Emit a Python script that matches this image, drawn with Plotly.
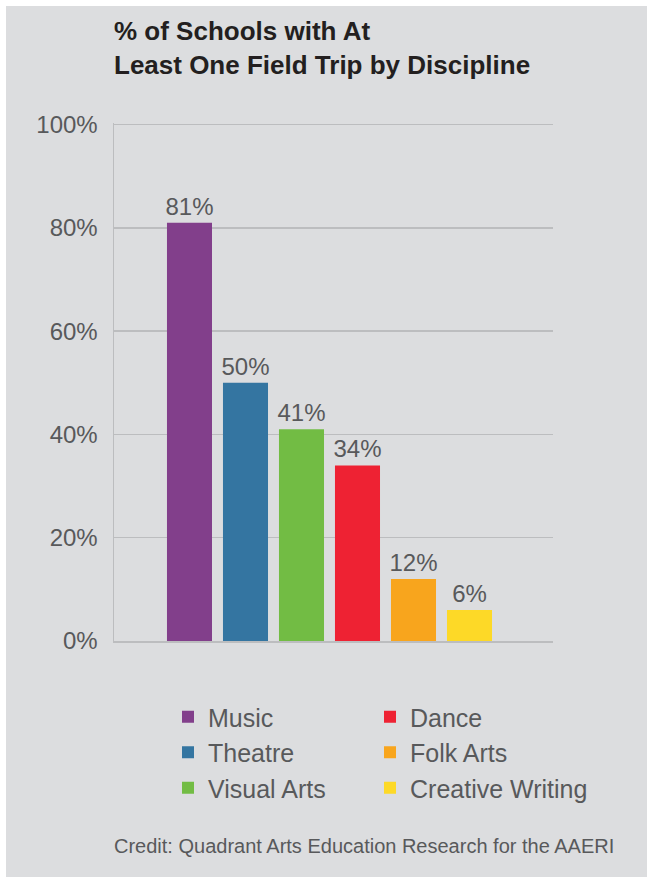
import plotly.graph_objects as go

categories = ["Music", "Theatre", "Visual Arts", "Dance", "Folk Arts", "Creative Writing"]
values = [81, 50, 41, 34, 12, 6]
colors = ["#823F8B", "#3475A1", "#72BC44", "#EE2233", "#F8A51D", "#FDD927"]
legend_groups = ["legend", "legend", "legend", "legend2", "legend2", "legend2"]
y_ticks = [0, 20, 40, 60, 80, 100]

title_text = "% of Schools with At<br>Least One Field Trip by Discipline"
credit_text = "Credit: Quadrant Arts Education Research for the AAERI"

BG = "#DCDDDF"
GRID = "#BCBDBF"
TXT = "#58595B"
FONT = "Liberation Sans, Arial, Helvetica, sans-serif"

fig = go.Figure()
for i, name in enumerate(categories):
    fig.add_trace(go.Bar(
        x=[name], y=[values[i]], name=name,
        legend=legend_groups[i],
        marker=dict(color=colors[i], line=dict(width=0)),
        text=[f"{values[i]}%"], textposition="outside",
        textfont=dict(size=24, color=TXT, family=FONT),
        constraintext="none", cliponaxis=False,
        hoverinfo="skip",
    ))

W, H = 649, 879
L, R, T, B = 114, 96, 123, 238
pw, ph = W - L - R, H - T - B

def px_x(x):
    return (x - L) / pw

def px_y(y):
    return (H - B - y) / ph

legend_style = dict(
    orientation="v",
    xanchor="left", yanchor="top",
    font=dict(size=25, color=TXT, family=FONT),
    bgcolor="rgba(0,0,0,0)",
    traceorder="normal",
    itemclick=False, itemdoubleclick=False,
    tracegroupgap=0,
)

fig.update_layout(
    width=W, height=H,
    margin=dict(l=L, r=R, t=T, b=B, pad=0),
    paper_bgcolor="white",
    plot_bgcolor=BG,
    barmode="overlay",
    bargap=0.196,
    font=dict(family=FONT, color=TXT),
    title=dict(
        text=title_text,
        font=dict(size=26, color="#231F20", family=FONT, weight="bold"),
        x=px_x(114), xref="paper", xanchor="left",
        y=1 - 40 / H, yref="container", yanchor="top",
    ),
    xaxis=dict(
        categoryorder="array", categoryarray=categories,
        range=[-1.348, 6.491],
        showticklabels=False, ticks="",
        showgrid=False, zeroline=False,
        showline=True, linecolor=GRID, linewidth=2,
        fixedrange=True,
    ),
    yaxis=dict(
        range=[0, 100.3],
        tickvals=y_ticks, ticktext=[f"{v}%" for v in y_ticks],
        tickfont=dict(size=24, color=TXT, family=FONT),
        ticks="", ticklabelstandoff=10,
        showgrid=True, gridcolor=GRID, gridwidth=1.5,
        zeroline=False,
        showline=True, linecolor=GRID, linewidth=1.5,
        fixedrange=True,
    ),
    legend=dict(x=px_x(168), y=px_y(694), **legend_style),
    legend2=dict(x=px_x(370), y=px_y(694), **legend_style),
    showlegend=True,
    shapes=[dict(
        type="rect", xref="paper", yref="paper", layer="below",
        x0=px_x(6), x1=px_x(647), y0=px_y(877), y1=px_y(6),
        fillcolor=BG, line=dict(width=0),
    )],
    annotations=[dict(
        text=credit_text, xref="paper", yref="paper",
        x=px_x(112), y=px_y(846), xanchor="left", yanchor="middle",
        showarrow=False, font=dict(size=20, color=TXT, family=FONT),
    )],
)

fig.write_html(
    "out.html",
    config={"displayModeBar": False, "staticPlot": True},
    post_script="document.body.style.margin='0';document.body.style.padding='0';",
)
